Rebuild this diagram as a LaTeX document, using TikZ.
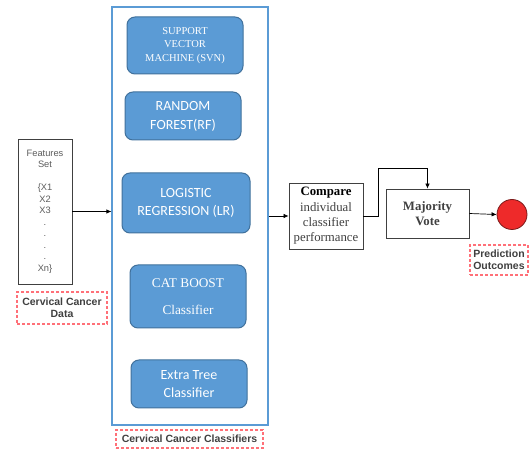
\documentclass[tikz,border=0pt]{standalone}
\usepackage{fontspec}
\setmainfont{Liberation Serif}
\newfontfamily\arialf{Liberation Sans}
\newfontfamily\calib{Carlito}
\usetikzlibrary{arrows.meta,calc}
\definecolor{bluefill}{HTML}{5B9BD5}
\definecolor{blueedge}{HTML}{41719C}
\definecolor{dashred}{HTML}{FF7078}
\definecolor{dotred}{HTML}{EE2A2A}
\definecolor{dotedge}{HTML}{7A1A1A}
\definecolor{txtgray}{HTML}{404040}
\tikzset{
  clsbox/.style={draw=blueedge, line width=1pt, fill=bluefill, rounded corners=8pt, text=white, align=center, inner sep=0pt},
  plainbox/.style={draw=txtgray, line width=0.8pt, fill=white, align=center, inner sep=0pt},
  tagbox/.style={draw=dashred, line width=1.2pt, dash pattern=on 3pt off 2pt, align=center, inner sep=0pt, text=txtgray, font=\arialf\bfseries\fontsize{10.5}{12}\selectfont},
  arr/.style={draw=black, line width=0.7pt, -{Latex[length=5pt,width=4.5pt]}}
}
\begin{document}
\begin{tikzpicture}[x=1pt,y=-1pt]
\useasboundingbox (0,0) rectangle (531,449);
\fill[white] (0,0) rectangle (531,449);

% big classifier frame
\node[draw=bluefill, line width=1.2pt, minimum width=156pt, minimum height=418pt, inner sep=0pt] (big) at (190,216) {};

\node[clsbox, minimum width=116pt, minimum height=57pt, font=\fontsize{10.5}{13.3}\selectfont] (svm) at (185,45.5) {SUPPORT\\VECTOR\\MACHINE (SVN)};
\node[clsbox, minimum width=116pt, minimum height=48pt, font=\calib\fontsize{14}{19}\selectfont] (rf) at (183,116) {RANDOM\\FOREST(RF)};
\node[clsbox, minimum width=128pt, minimum height=60pt, font=\calib\fontsize{14}{17.5}\selectfont] (lr) at (186,203) {LOGISTIC\\REGRESSION (LR)};
\node[clsbox, minimum width=116pt, minimum height=63pt, font=\fontsize{13.3}{27}\selectfont] (cat) at (188,296.5) {CAT BOOST\\Classifier};
\node[clsbox, minimum width=116pt, minimum height=48pt, font=\calib\fontsize{14}{18}\selectfont] (et) at (189,384) {Extra Tree\\Classifier};

\node[tagbox, minimum width=147pt, minimum height=18pt] (ccc) at (189.5,439) {Cervical Cancer Classifiers};

% features
\node[plainbox, minimum width=54pt, minimum height=145pt, text=txtgray!85, font=\arialf\fontsize{9.3}{11.5}\selectfont] (feat) at (45,211.5) {Features\\Set\\[11.5pt]\{X1\\X2\\X3\\.\\.\\.\\.\\Xn\}};
\node[tagbox, minimum width=90pt, minimum height=32pt] (ccd) at (62,308) {Cervical Cancer\\Data};

% compare and vote
\node[plainbox, minimum width=74pt, minimum height=66pt, font=\fontsize{12.8}{15.3}\selectfont] (cmp) at (326,216) {\textbf{Compare}\\\textcolor{txtgray}{individual}\\\textcolor{txtgray}{classifier}\\\textcolor{txtgray}{performance}};
\node[plainbox, minimum width=83pt, minimum height=49pt, font=\bfseries\fontsize{12.8}{15}\selectfont] (maj) at (427.5,213.5) {\textcolor{txtgray}{Majority}\\\textcolor{txtgray}{Vote}};
\node[circle, draw=dotedge, line width=0.8pt, fill=dotred, minimum size=30pt, inner sep=0pt] (out) at (512,214.5) {};
\node[tagbox, minimum width=58pt, minimum height=30pt] (pred) at (499,260) {Prediction\\Outcomes};

% connectors
\draw[arr] (feat.east) -- (big.west |- feat.east);
\draw[arr] (big.east |- cmp.west) -- (cmp.west);
\coordinate (k1) at (378,168);
\draw[arr] (cmp.east) -| (k1) -| (maj.north);
\draw[arr] (maj.east) -- (out.west);
\end{tikzpicture}
\end{document}
